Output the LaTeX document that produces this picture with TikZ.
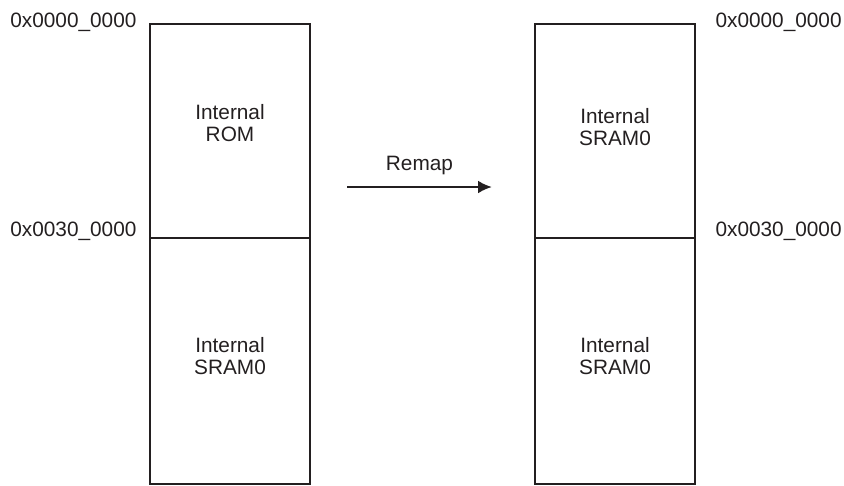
\documentclass[tikz,border=0pt]{standalone}
\usepackage{fontspec}
\setmainfont{Liberation Sans}
\usetikzlibrary{positioning}
\usetikzlibrary{arrows.meta,arrows}
\definecolor{ink}{HTML}{231F20}

\begin{document}
\begin{tikzpicture}[x=1pt,y=-1pt,
	every node/.style={font=\fontsize{20.8}{22.5}\selectfont, text=ink},
	mem/.style={draw=ink, line width=2.8pt, minimum width=160pt, inner sep=0pt, outer sep=0pt}]
				\useasboundingbox (0,0) rectangle (844,485);
				\node[mem, minimum height=214pt](rom) at (230,131) {};
				\node[mem, minimum height=246pt, below=0pt of rom](sramL) {};
				\node[mem, minimum height=214pt](sramR) at (615,131) {};
				\node[mem, minimum height=246pt, below=0pt of sramR](sramRL) {};

				\node[align=center] at ([yshift=8pt]rom.center) {Internal\\ROM};
				\node[align=center] at ([yshift=5pt]sramL.center) {Internal\\SRAM0};
				\node[align=center] at ([yshift=4pt]sramR.center) {Internal\\SRAM0};
				\node[align=center] at ([yshift=5pt]sramRL.center) {Internal\\SRAM0};

				\node[anchor=base east, xshift=-10pt, yshift=-3pt](addrA) at (rom.north west) {0x0000\_0000};
				\node[anchor=base east, xshift=-10pt, yshift=2pt](addrB) at (sramL.north west) {0x0030\_0000};
				\node[anchor=base west, xshift=17pt, yshift=-3pt](addrC) at (sramR.north east) {0x0000\_0000};
				\node[anchor=base west, xshift=17pt, yshift=2pt](addrD) at (sramRL.north east) {0x0030\_0000};

				\coordinate (r1) at (347,187);
				\coordinate (r2) at (492,187);
				\draw[ink, line width=2.6pt, -{Latex[length=14pt,width=13pt]}] (r1) to node[above=8pt]{Remap} (r2);
			\end{tikzpicture}
\end{document}
